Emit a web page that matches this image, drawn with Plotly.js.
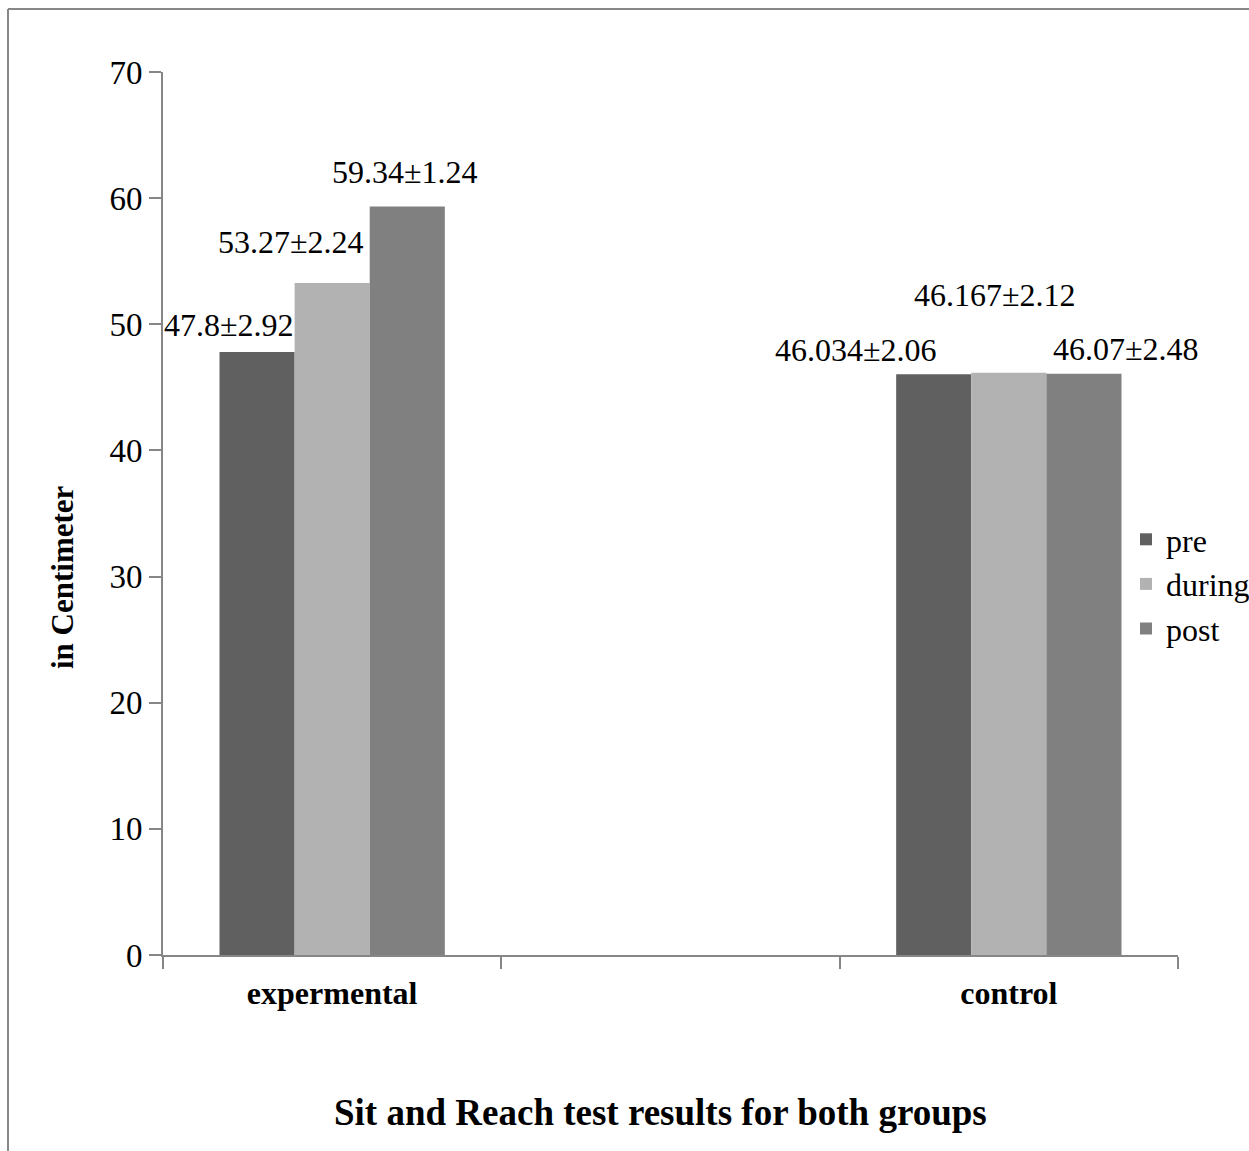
<!DOCTYPE html>
<html>
<head>
<meta charset="utf-8">
<script src="https://cdn.plot.ly/plotly-3.0.1.min.js"></script>
<style>
  html, body { margin: 0; padding: 0; background: #ffffff; overflow: hidden; }
  #chart { width: 1249px; height: 1151px; }
</style>
</head>
<body>
<div id="chart"></div>
<script>
// ---- data ----
const categories = ["expermental", " ", "control"];
const seriesNames = ["pre", "during", "post"];
const preValues = [47.8, null, 46.034];
const duringValues = [53.27, null, 46.167];
const postValues = [59.34, null, 46.07];
const preSD = [2.92, null, 2.06];
const duringSD = [2.24, null, 2.12];
const postSD = [1.24, null, 2.48];
const yTicks = [0, 10, 20, 30, 40, 50, 60, 70];
const xTitle = "Sit and Reach test results for both groups";
const yTitle = "in Centimeter";

// ---- style ----
const colors = ["#606060", "#b2b2b2", "#808080"];
const FONT = "Liberation Serif, Times New Roman, serif";
const axisColor = "#868686";

const values = [preValues, duringValues, postValues];
const sds = [preSD, duringSD, postSD];

const traces = seriesNames.map((name, i) => ({
  type: "bar",
  name: name,
  x: categories,
  y: values[i],
  marker: { color: colors[i], line: { width: 0 } },
  hoverinfo: "skip"
}));

const L = 163, R = 71, T = 72, B = 196, W = 1249, H = 1151;
const pw = W - L - R, ph = H - T - B;
const px2x = p => (p - L) / pw;
const py2y = p => (H - B - p) / ph;

// label offsets (pixels) relative to bar top centre, per series per category
const barPx = 75;
const labelXShift = [[-28, 0, -78], [-41, 0, -14], [-2, 0, 42]];
const labelYShift = [[27, 0, 24], [41, 0, 78], [34, 0, 25]];
const seriesOffset = [-barPx, 0, barPx];

const annotations = [];
values.forEach((vals, i) => {
  vals.forEach((v, j) => {
    if (v === null) return;
    annotations.push({
      x: categories[j], y: v, xref: "x", yref: "y",
      text: v + "±" + sds[i][j].toFixed(2),
      showarrow: false,
      xanchor: "center", yanchor: "middle",
      xshift: seriesOffset[i] + labelXShift[i][j],
      yshift: labelYShift[i][j],
      font: { family: FONT, size: 32, color: "#000000" }
    });
  });
});

// axis titles (placed as in the reference: centred on the whole chart)
annotations.push({
  xref: "paper", yref: "paper", x: px2x(660), y: py2y(1112),
  xanchor: "center", yanchor: "middle", showarrow: false,
  text: "<b>" + xTitle + "</b>",
  font: { family: FONT, size: 37, color: "#000000" }
});
annotations.push({
  xref: "paper", yref: "paper", x: px2x(62), y: py2y(577),
  xanchor: "center", yanchor: "middle", showarrow: false, textangle: -90,
  text: "<b>" + yTitle + "</b>",
  font: { family: FONT, size: 31, color: "#000000" }
});

const layout = {
  width: W, height: H,
  margin: { l: L, r: R, t: T, b: B, autoexpand: false },
  paper_bgcolor: "#ffffff", plot_bgcolor: "#ffffff",
  font: { family: FONT, color: "#000000" },
  showlegend: true,
  barmode: "group",
  bargap: 0.334,
  bargroupgap: 0,
  xaxis: {
    type: "category",
    categoryorder: "array",
    categoryarray: categories,
    range: [-0.5, 2.5],
    tickson: "boundaries",
    ticks: "outside", ticklen: 12, tickwidth: 2, tickcolor: axisColor,
    showline: true, linecolor: axisColor, linewidth: 2,
    showgrid: false, zeroline: false,
    tickfont: { family: FONT, size: 32, color: "#000000", weight: "bold" },
    ticklabelstandoff: 9,
    automargin: false,
    fixedrange: true
  },
  yaxis: {
    range: [0, 70],
    tickvals: yTicks,
    ticks: "outside", ticklen: 12, tickwidth: 2, tickcolor: axisColor,
    showline: true, linecolor: axisColor, linewidth: 2,
    showgrid: false, zeroline: false,
    tickfont: { family: FONT, size: 33, color: "#000000" },
    ticklabelstandoff: 0,
    automargin: false,
    fixedrange: true
  },
  legend: {
    x: px2x(1126), xanchor: "left",
    y: py2y(584), yanchor: "middle",
    font: { family: FONT, size: 32, color: "#000000" },
    bgcolor: "rgba(0,0,0,0)",
    itemwidth: 30,
    tracegroupgap: 0
  },
  annotations: annotations,
  shapes: [
    { type: "line", xref: "paper", yref: "paper",
      x0: px2x(8), x1: px2x(8), y0: py2y(1160), y1: py2y(9),
      line: { color: "#888888", width: 2 } },
    { type: "line", xref: "paper", yref: "paper",
      x0: px2x(8), x1: px2x(1260), y0: py2y(9), y1: py2y(9),
      line: { color: "#888888", width: 2 } }
  ]
};

Plotly.newPlot("chart", traces, layout, { displayModeBar: false, staticPlot: true });
</script>
</body>
</html>
